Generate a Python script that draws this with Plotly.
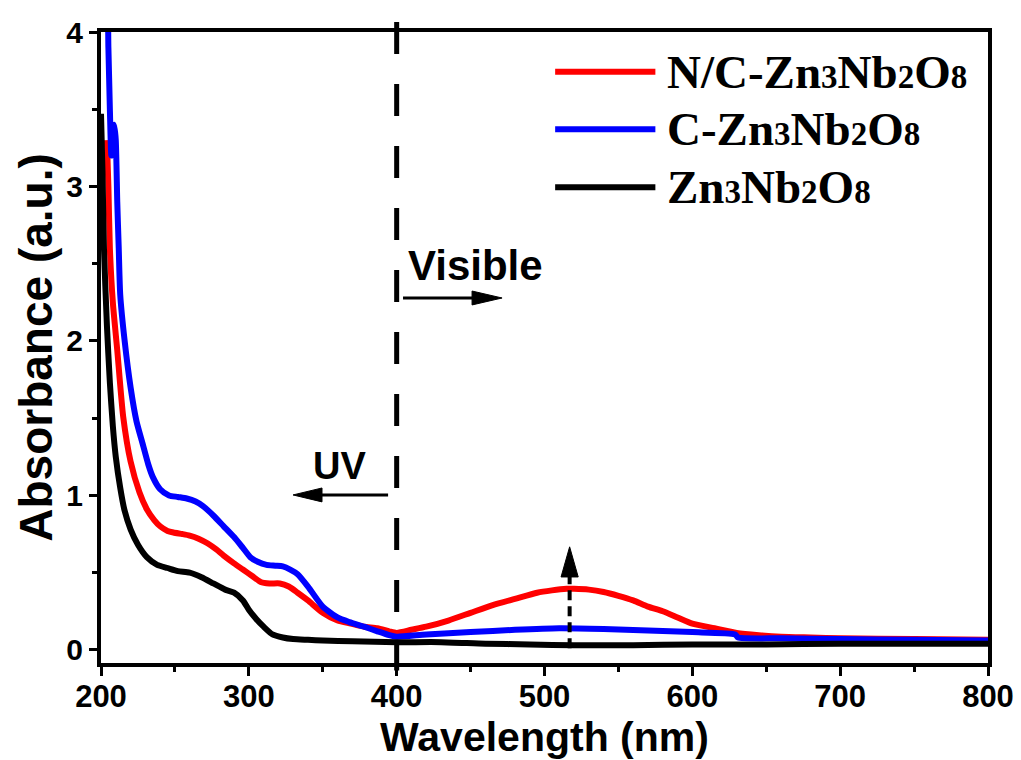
import plotly.graph_objects as go

# ---------------- data ----------------
x_nc = [204, 205, 206, 208, 211, 215, 220, 226, 231, 236, 240, 245, 249, 255, 260, 266, 272,
        278, 283, 290, 296, 302, 308, 314, 321, 327, 333, 340, 350, 360, 369, 378, 387, 395,
        400, 410, 420, 435, 450, 465, 480, 495, 505, 515, 520, 530, 540, 550, 560, 570, 580,
        590, 600, 615, 630, 645, 660, 680, 700, 750, 800]
y_nc = [3.30, 3.00, 2.60, 2.25, 1.94, 1.51, 1.22, 1.02, 0.91, 0.84, 0.80, 0.77, 0.76, 0.75,
        0.74, 0.72, 0.69, 0.65, 0.61, 0.56, 0.52, 0.48, 0.44, 0.43, 0.43, 0.41, 0.37, 0.32,
        0.24, 0.19, 0.17, 0.15, 0.14, 0.12, 0.11, 0.13, 0.15, 0.19, 0.24, 0.29, 0.33, 0.37,
        0.385, 0.395, 0.395, 0.39, 0.375, 0.35, 0.32, 0.28, 0.25, 0.21, 0.17, 0.14, 0.11,
        0.095, 0.085, 0.08, 0.075, 0.07, 0.065]

x_c = [202, 203, 204, 205, 206, 207, 208, 209, 210, 211, 212, 213, 216, 220, 224, 228, 232,
       235, 240, 246, 252, 258, 264, 269, 276, 283, 290, 296, 301, 306, 312, 318, 323, 328,
       333, 340, 350, 360, 368, 378, 387, 395, 400, 420, 450, 480, 510, 540, 570, 600, 629,
       631, 660, 700, 750, 800]
y_c = [4.20, 4.20, 4.20, 3.90, 3.50, 3.20, 3.30, 3.40, 3.30, 2.90, 2.60, 2.30, 2.00, 1.70,
       1.48, 1.34, 1.20, 1.12, 1.04, 1.00, 0.99, 0.98, 0.96, 0.93, 0.87, 0.80, 0.73, 0.66,
       0.60, 0.57, 0.55, 0.545, 0.54, 0.52, 0.49, 0.41, 0.28, 0.21, 0.18, 0.15, 0.12, 0.095,
       0.085, 0.10, 0.115, 0.13, 0.14, 0.135, 0.125, 0.115, 0.10, 0.08, 0.075, 0.07, 0.065,
       0.06]

x_zn = [200, 201, 202, 204, 206, 208, 210, 213, 216, 220, 225, 231, 238, 245, 252, 260, 268,
        276, 284, 290, 296, 300, 305, 310, 316, 323, 330, 340, 350, 370, 400, 430, 460, 490,
        520, 560, 600, 650, 700, 750, 800]
y_zn = [3.47, 3.10, 2.60, 2.10, 1.73, 1.45, 1.25, 1.05, 0.90, 0.78, 0.68, 0.60, 0.55, 0.53,
        0.51, 0.50, 0.47, 0.43, 0.39, 0.37, 0.32, 0.26, 0.20, 0.15, 0.10, 0.08, 0.07, 0.065,
        0.06, 0.055, 0.05, 0.05, 0.04, 0.035, 0.03, 0.03, 0.035, 0.035, 0.04, 0.04, 0.04]

_d = "<span style='font-size:33px'>{}</span>"
series_names = ["N/C-Zn" + _d.format(3) + "Nb" + _d.format(2) + "O" + _d.format(8),
                "C-Zn" + _d.format(3) + "Nb" + _d.format(2) + "O" + _d.format(8),
                "Zn" + _d.format(3) + "Nb" + _d.format(2) + "O" + _d.format(8)]
series_colors = ["#ff0000", "#0000ff", "#000000"]

x_ticks = [200, 300, 400, 500, 600, 700, 800]
y_ticks = [0, 1, 2, 3, 4]
uv_boundary = 400
peak_marker = 517

# ---------------- figure ----------------
fig = go.Figure()
for xs, ys, c in [(x_nc, y_nc, series_colors[0]), (x_c, y_c, series_colors[1]),
                  (x_zn, y_zn, series_colors[2])]:
    fig.add_trace(go.Scatter(x=xs, y=ys, mode="lines",
                             line=dict(color=c, width=6, shape="spline", smoothing=0.6),
                             showlegend=False))

sans = "Liberation Sans, Arial, sans-serif"
serif = "Liberation Serif, Times New Roman, serif"

shapes = []
annotations = []

# vertical dashed boundary at 400 nm
shapes.append(dict(type="line", xref="x", yref="paper", x0=uv_boundary, x1=uv_boundary,
                   y0=1.016, y1=-0.012, line=dict(color="black", width=5, dash="32px,30px")))

# dashed vertical arrow at peak
shapes.append(dict(type="line", xref="x", yref="y", x0=peak_marker, x1=peak_marker,
                   y0=0.01, y1=0.48, line=dict(color="black", width=4, dash="10px,6px")))
shapes.append(dict(type="path", xref="x", yref="y",
                   path=f"M {peak_marker-5.8} 0.472 L {peak_marker+5.8} 0.472 L {peak_marker} 0.667 Z",
                   fillcolor="black", line=dict(color="black", width=1)))

# Visible arrow (right)
shapes.append(dict(type="line", xref="x", yref="y", x0=404.3, x1=452, y0=2.278, y1=2.278,
                   line=dict(color="black", width=3)))
shapes.append(dict(type="path", xref="x", yref="y",
                   path="M 451 2.233 L 451 2.323 L 471.3 2.278 Z",
                   fillcolor="black", line=dict(color="black", width=1)))
# UV arrow (left)
shapes.append(dict(type="line", xref="x", yref="y", x0=394.2, x1=349, y0=1.003, y1=1.003,
                   line=dict(color="black", width=3)))
shapes.append(dict(type="path", xref="x", yref="y",
                   path="M 349.5 0.958 L 349.5 1.048 L 329.9 1.003 Z",
                   fillcolor="black", line=dict(color="black", width=1)))

annotations.append(dict(x=453, y=2.49, xref="x", yref="y", text="Visible", showarrow=False,
                        font=dict(family=sans, size=42, color="black", weight="bold")))
annotations.append(dict(x=361.5, y=1.19, xref="x", yref="y", text="UV", showarrow=False,
                        font=dict(family=sans, size=38, color="black", weight="bold")))

# legend (drawn manually to match the long line samples)
leg_y = [0.937, 0.846, 0.754]
for name, col, ly in zip(series_names, series_colors, leg_y):
    shapes.append(dict(type="line", xref="paper", yref="paper", x0=0.512, x1=0.625,
                       y0=ly, y1=ly, line=dict(color=col, width=6)))
    annotations.append(dict(x=0.636, y=ly, xref="paper", yref="paper", text=name,
                            showarrow=False, xanchor="left", yanchor="middle",
                            font=dict(family=serif, size=47, color="black", weight="bold")))

fig.update_layout(
    width=1021, height=760,
    margin=dict(l=101, r=33, t=32, b=97),
    paper_bgcolor="white", plot_bgcolor="white",
    shapes=shapes, annotations=annotations,
    showlegend=False,
)
fig.update_xaxes(
    range=[200, 800], tickvals=x_ticks, ticktext=[str(v) for v in x_ticks],
    showgrid=False, zeroline=False, automargin=False,
    showline=True, linecolor="black", linewidth=4, mirror=True,
    ticks="outside", ticklen=9, tickwidth=3, tickcolor="black",
    ticklabelstandoff=-6,
    minor=dict(ticks="outside", ticklen=5, tickwidth=3, tickcolor="black", dtick=50,
               tick0=200, showgrid=False),
    tickfont=dict(family=sans, size=31, color="black", weight="bold"),
    title=dict(text="Wavelength (nm)", standoff=6,
               font=dict(family=sans, size=41, color="black", weight="bold")),
)
fig.update_yaxes(
    range=[-0.085, 4.0], tickvals=y_ticks, ticktext=[str(v) for v in y_ticks],
    showgrid=False, zeroline=False, automargin=False,
    showline=True, linecolor="black", linewidth=4, mirror=True,
    ticks="outside", ticklen=8, tickwidth=3, tickcolor="black",
    minor=dict(ticks="outside", ticklen=5, tickwidth=3, tickcolor="black", dtick=0.5,
               tick0=0, showgrid=False),
    tickfont=dict(family=sans, size=30, color="black", weight="bold"),
    title=dict(text="Absorbance (a.u.)", standoff=0,
               font=dict(family=sans, size=46, color="black", weight="bold")),
)

fig.write_html("out.html")
